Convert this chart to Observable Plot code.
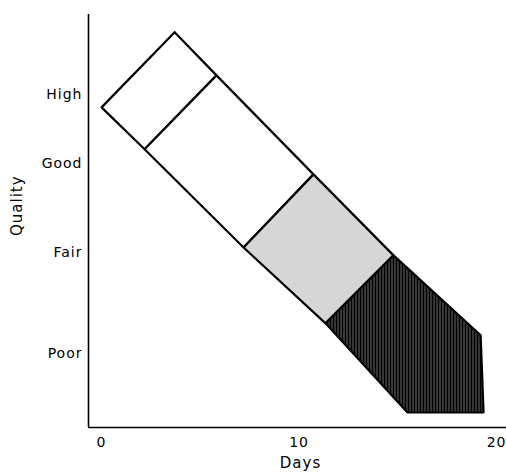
<!DOCTYPE html>
<html>
<head>
<meta charset="utf-8">
<script src="https://cdn.jsdelivr.net/npm/d3@7"></script>
<script src="https://cdn.jsdelivr.net/npm/@observablehq/plot@0.6"></script>
<style>
  html, body { margin: 0; padding: 0; background: #fff; }
  #chart svg text { letter-spacing: 1px; }
</style>
</head>
<body>
<div id="chart"></div>
<script>
// Quality axis labels and their positions on the quality scale
const qualityLabels = ["Poor", "Fair", "Good", "High"];
const qualityPositions = [3.75, 8.86, 13.37, 16.84];
const dayTicks = [0, 10, 20];

// Band boundaries: upper edge and lower edge breakpoints (days, quality)
const upperDays = [3.70, 5.82, 10.73, 14.78, 19.19];
const upperQuality = [20.0, 17.82, 12.81, 8.71, 4.66];
const lowerDays = [0, 2.18, 7.19, 11.34, 15.49];
const lowerQuality = [16.2, 14.08, 9.11, 5.27, 0.76];
// cut-off corner at end of the band
const endDay = 19.34;
const endQuality = 0.76;
// fill of each segment along the band
const segmentFills = ["white", "white", "url(#stippleLight)", "url(#stippleDark)"];

// build polygon rows
const rows = [];
segmentFills.forEach((fill, i) => {
  const pts = [
    [upperDays[i], upperQuality[i]],
    [upperDays[i + 1], upperQuality[i + 1]]
  ];
  if (i === segmentFills.length - 1) pts.push([endDay, endQuality]);
  pts.push([lowerDays[i + 1], lowerQuality[i + 1]]);
  pts.push([lowerDays[i], lowerQuality[i]]);
  pts.push(pts[0]);
  pts.forEach(([x, y]) => rows.push({seg: i, x, y, fill}));
});

const plot = Plot.plot({
  width: 506,
  height: 476,
  marginLeft: 88,
  marginRight: 0,
  marginTop: 14,
  marginBottom: 49,
  style: {fontFamily: "'DejaVu Sans', sans-serif", fontSize: "14px", color: "#000", background: "#fff"},
  x: {domain: [-0.66, 20.5]},
  y: {domain: [0, 20.9]},
  color: {type: "identity"},
  marks: [
    Plot.line(rows, {x: "x", y: "y", z: "seg", fill: "fill", stroke: "#000", strokeWidth: 2.2, strokeLinejoin: "miter"}),
    Plot.ruleX([-0.66], {stroke: "#000", strokeWidth: 1.6}),
    Plot.ruleY([0], {stroke: "#000", strokeWidth: 1.6}),
    Plot.axisY({ticks: qualityPositions, tickFormat: (d, i) => qualityLabels[i], tickSize: 0, tickPadding: 6, label: null, fontSize: 14}),
    Plot.axisX({ticks: dayTicks, tickSize: 0, tickPadding: 10, label: null, fontSize: 14}),
    Plot.text(["Days"], {frameAnchor: "bottom", dy: 40, dx: 3, fontSize: 15}),
    Plot.text(["Quality"], {frameAnchor: "left", dx: -71, dy: 15, rotate: -90, fontSize: 15})
  ]
});

// stipple patterns used by the shaded segments
const defs = d3.select(plot).insert("defs", ":first-child");
const light = defs.append("pattern").attr("id", "stippleLight").attr("patternUnits", "userSpaceOnUse")
  .attr("width", 2).attr("height", 2);
light.append("rect").attr("width", 2).attr("height", 2).attr("fill", "#fff");
light.append("rect").attr("width", 1).attr("height", 1).attr("fill", "#5a5a5a");
const dark = defs.append("pattern").attr("id", "stippleDark").attr("patternUnits", "userSpaceOnUse")
  .attr("width", 3).attr("height", 3);
dark.append("rect").attr("width", 3).attr("height", 3).attr("fill", "#000");
dark.append("rect").attr("x", 1).attr("width", 1).attr("height", 3).attr("fill", "#6a6a6a");

document.getElementById("chart").appendChild(plot);
</script>
</body>
</html>
